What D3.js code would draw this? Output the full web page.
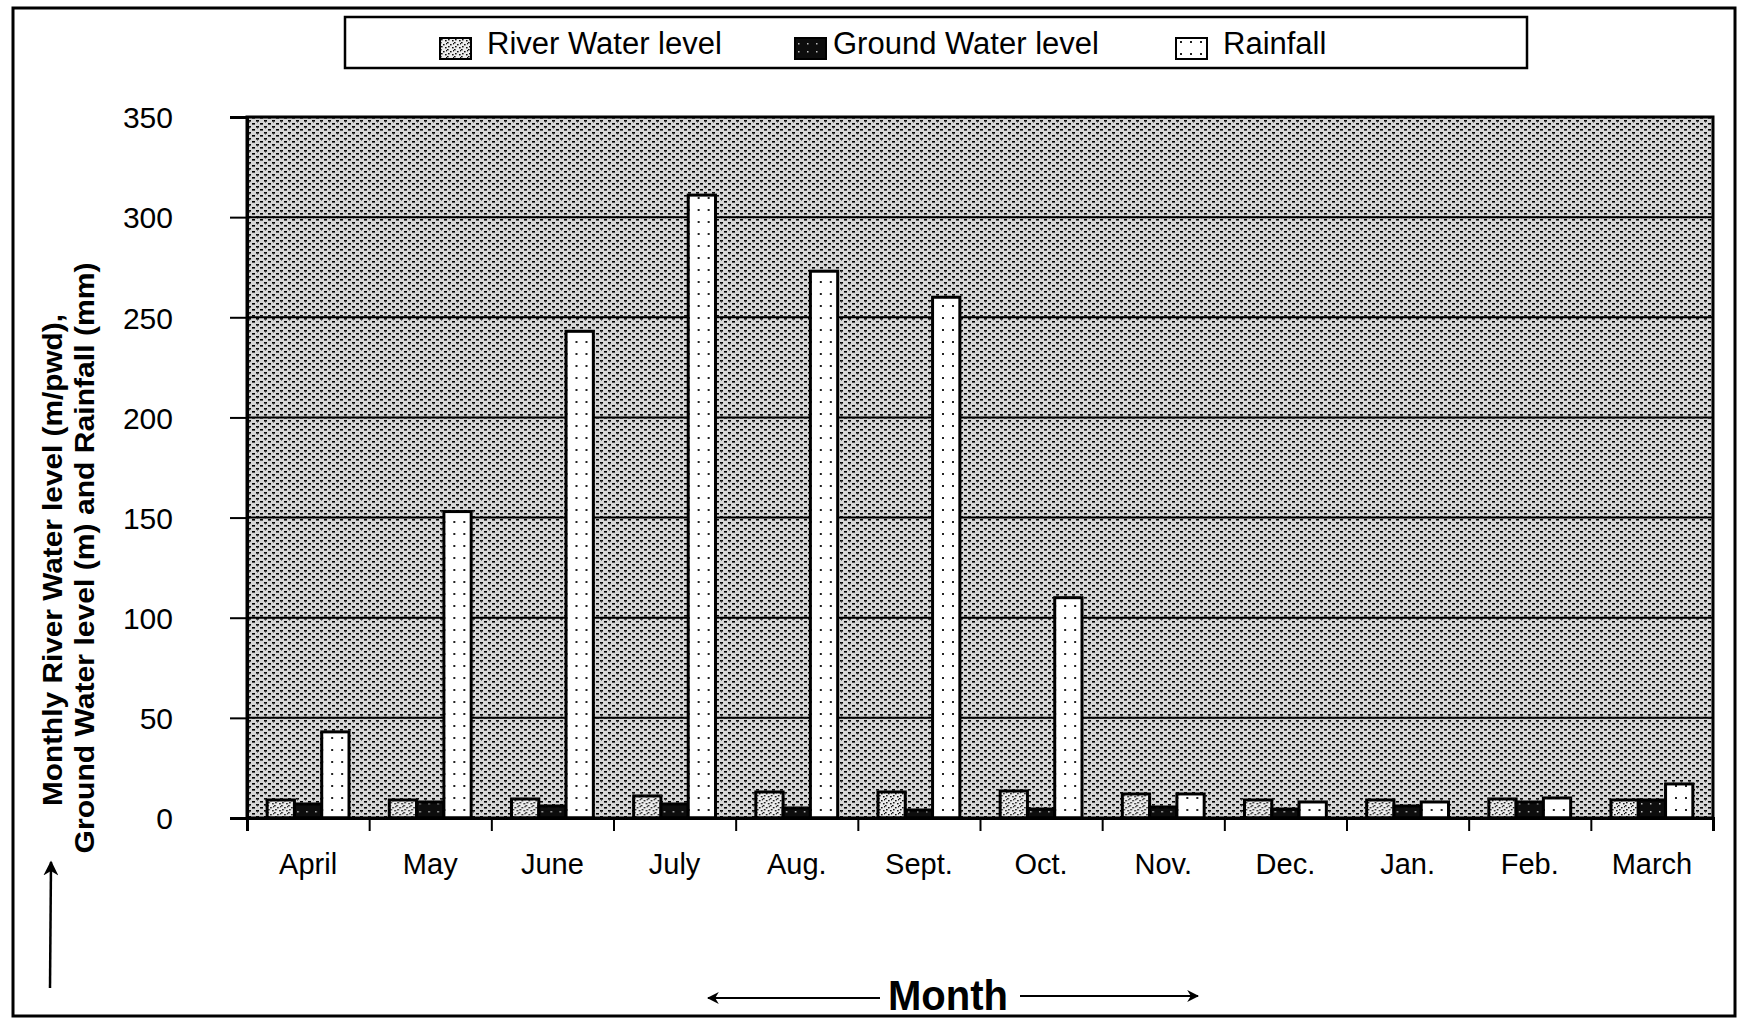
<!DOCTYPE html>
<html>
<head>
<meta charset="utf-8">
<script src="https://cdn.jsdelivr.net/npm/d3@7"></script>
<style>
  html, body { margin: 0; padding: 0; background: #fff; }
  svg { display: block; }
  text { font-family: "Liberation Sans", Arial, sans-serif; fill: #000; }
</style>
</head>
<body>
<svg id="chart" width="1738" height="1019"></svg>
<script>
// ---- data ----
const months = ["April", "May", "June", "July", "Aug.", "Sept.", "Oct.", "Nov.", "Dec.", "Jan.", "Feb.", "March"];
const seriesNames = ["River Water level", "Ground Water level", "Rainfall"];
const riverLevel = [9, 9, 9.5, 11, 13, 13, 13.5, 12, 9, 9, 9.5, 9];
const groundLevel = [7, 8, 6, 7, 5, 4, 4.5, 5.5, 4.5, 6, 8, 9];
const rainfall = [43, 153, 243, 311, 273, 260, 110, 12, 8, 8, 10, 17];
const yTicks = [0, 50, 100, 150, 200, 250, 300, 350];
const yTitle = ["Monthly River Water level (m/pwd),", "Ground Water level (m) and  Rainfall (mm)"];
const xTitle = "Month";

const seriesValues = [riverLevel, groundLevel, rainfall];

const svg = d3.select("#chart");
const plot = { left: 247, right: 1713, top: 117, bottom: 818 };

// ---- patterns ----
const defs = svg.append("defs");
const bgPat = defs.append("pattern").attr("id", "bgPat").attr("patternUnits", "userSpaceOnUse")
  .attr("width", 8).attr("height", 6);
bgPat.append("rect").attr("width", 8).attr("height", 6).attr("fill", "#d6d6d6");
bgPat.append("rect").attr("x", 0).attr("y", 0).attr("width", 3).attr("height", 1.6).attr("fill", "#000");
bgPat.append("rect").attr("x", 4).attr("y", 3).attr("width", 3).attr("height", 1.6).attr("fill", "#000");
bgPat.append("rect").attr("x", 1).attr("y", 0).attr("width", 1).attr("height", 3).attr("fill", "#222").attr("opacity", 0.5);

const rvPat = defs.append("pattern").attr("id", "rvPat").attr("patternUnits", "userSpaceOnUse")
  .attr("width", 7).attr("height", 7);
rvPat.append("rect").attr("width", 7).attr("height", 7).attr("fill", "#ededed");
[[0,0],[3,2],[5,5],[1,4],[6,1]].forEach(p => rvPat.append("rect").attr("x", p[0]).attr("y", p[1])
  .attr("width", 1.6).attr("height", 1.4).attr("fill", "#111"));

const gwPat = defs.append("pattern").attr("id", "gwPat").attr("patternUnits", "userSpaceOnUse")
  .attr("width", 9).attr("height", 8);
gwPat.append("rect").attr("width", 9).attr("height", 8).attr("fill", "#0d0d0d");
gwPat.append("rect").attr("x", 3).attr("y", 3).attr("width", 1.5).attr("height", 1.5).attr("fill", "#bbb");

const rfPat = defs.append("pattern").attr("id", "rfPat").attr("patternUnits", "userSpaceOnUse")
  .attr("width", 10).attr("height", 12);
rfPat.append("rect").attr("width", 10).attr("height", 12).attr("fill", "#fff");
rfPat.append("rect").attr("x", 4).attr("y", 5).attr("width", 2).attr("height", 2).attr("fill", "#222");

const fills = ["url(#rvPat)", "url(#gwPat)", "url(#rfPat)"];

// ---- outer frame ----
svg.append("rect").attr("x", 13).attr("y", 8).attr("width", 1735 - 13).attr("height", 1016 - 8)
  .attr("fill", "none").attr("stroke", "#000").attr("stroke-width", 3);

// ---- scales ----
const x0 = d3.scaleBand().domain(months).range([plot.left, plot.right])
  .paddingInner(0.33).paddingOuter(0.165);
const x1 = d3.scaleBand().domain(seriesNames).range([0, x0.bandwidth()]);
const y = d3.scaleLinear().domain([0, 350]).range([plot.bottom, plot.top]);
const xEdge = d3.scaleLinear().domain([0, months.length]).range([plot.left, plot.right]);

// ---- plot background ----
svg.append("rect").attr("x", plot.left).attr("y", plot.top)
  .attr("width", plot.right - plot.left).attr("height", plot.bottom - plot.top)
  .attr("fill", "url(#bgPat)");

// gridlines
svg.append("g").selectAll("line").data(yTicks.filter(t => t > 0 && t < 350)).join("line")
  .attr("x1", plot.left).attr("x2", plot.right)
  .attr("y1", d => y(d)).attr("y2", d => y(d))
  .attr("stroke", "#000").attr("stroke-width", 2);

// ---- bars ----
const groups = svg.append("g").selectAll("g").data(months).join("g")
  .attr("transform", d => `translate(${x0(d)},0)`);
groups.selectAll("rect").data((m, i) => seriesNames.map((s, k) => ({ s, k, v: seriesValues[k][i] })))
  .join("rect")
  .attr("x", d => x1(d.s))
  .attr("y", d => y(d.v))
  .attr("width", x1.bandwidth())
  .attr("height", d => y(0) - y(d.v))
  .attr("fill", d => fills[d.k])
  .attr("stroke", "#000").attr("stroke-width", 3);

// plot border
svg.append("rect").attr("x", plot.left).attr("y", plot.top)
  .attr("width", plot.right - plot.left).attr("height", plot.bottom - plot.top)
  .attr("fill", "none").attr("stroke", "#000").attr("stroke-width", 3);

// ---- y axis ----
const yAxis = svg.append("g").attr("transform", `translate(${plot.left},0)`)
  .call(d3.axisLeft(y).tickValues(yTicks).tickSize(17).tickPadding(57).tickFormat(d3.format("d")));
yAxis.select(".domain").attr("stroke", "#000").attr("stroke-width", 3);
yAxis.selectAll(".tick line").attr("stroke", "#000").attr("stroke-width", 2);
yAxis.selectAll(".tick text").attr("font-size", 30).attr("font-family", "'Liberation Sans', Arial, sans-serif")
  .attr("fill", "#000").attr("dy", "0.36em");

// ---- x axis ticks at band edges ----
const xAxis = svg.append("g").attr("transform", `translate(0,${plot.bottom})`)
  .call(d3.axisBottom(xEdge).tickValues(d3.range(months.length + 1)).tickSize(13).tickFormat(""));
xAxis.select(".domain").attr("stroke", "#000").attr("stroke-width", 3);
xAxis.selectAll(".tick line").attr("stroke", "#000").attr("stroke-width", 2);

// month labels
svg.append("g").selectAll("text").data(months).join("text")
  .attr("x", d => x0(d) + x0.bandwidth() / 2)
  .attr("y", 874)
  .attr("text-anchor", "middle")
  .attr("font-size", 29)
  .text(d => d);

// ---- y title ----
const yt = svg.append("g").attr("transform", "translate(0,560) rotate(-90)");
yt.append("text").attr("x", 0).attr("y", 62).attr("text-anchor", "middle")
  .attr("font-size", 28).attr("font-weight", "bold")
  .attr("font-family", "'Liberation Sans Narrow', 'Arial Narrow', 'Liberation Sans', Arial, sans-serif")
  .attr("textLength", 492).attr("lengthAdjust", "spacingAndGlyphs")
  .text(yTitle[0]);
yt.append("text").attr("x", 2).attr("y", 94).attr("text-anchor", "middle")
  .attr("font-size", 28).attr("font-weight", "bold")
  .attr("font-family", "'Liberation Sans Narrow', 'Arial Narrow', 'Liberation Sans', Arial, sans-serif")
  .attr("textLength", 591).attr("lengthAdjust", "spacingAndGlyphs")
  .text(yTitle[1]);

// arrow markers
const mk = defs.append("marker").attr("id", "arrowHead").attr("viewBox", "0 0 10 10")
  .attr("refX", 9).attr("refY", 5).attr("markerWidth", 6).attr("markerHeight", 6)
  .attr("markerUnits", "strokeWidth").attr("orient", "auto");
mk.append("path").attr("d", "M0,0 L10,5 L0,10 L3,5 Z").attr("fill", "#000");

// vertical arrow on left
svg.append("line").attr("x1", 50).attr("y1", 988).attr("x2", 51).attr("y2", 862)
  .attr("stroke", "#000").attr("stroke-width", 2.5).attr("marker-end", "url(#arrowHead)");

// ---- x title with arrows ----
svg.append("text").attr("x", 948).attr("y", 1010).attr("text-anchor", "middle")
  .attr("font-size", 42).attr("font-weight", "bold")
  .attr("textLength", 120).attr("lengthAdjust", "spacingAndGlyphs")
  .text(xTitle);
svg.append("line").attr("x1", 880).attr("y1", 998).attr("x2", 708).attr("y2", 998)
  .attr("stroke", "#000").attr("stroke-width", 2).attr("marker-end", "url(#arrowHead)");
svg.append("line").attr("x1", 1020).attr("y1", 996).attr("x2", 1198).attr("y2", 996)
  .attr("stroke", "#000").attr("stroke-width", 2).attr("marker-end", "url(#arrowHead)");

// ---- legend ----
const lg = svg.append("g");
lg.append("rect").attr("x", 345).attr("y", 17).attr("width", 1527 - 345).attr("height", 51)
  .attr("fill", "#fff").attr("stroke", "#000").attr("stroke-width", 2.5);
const legendX = [440, 795, 1176];
const legendItems = lg.selectAll("g").data(seriesNames).join("g")
  .attr("transform", (d, i) => `translate(${legendX[i]},0)`);
legendItems.append("rect").attr("x", 0).attr("y", 38).attr("width", 31).attr("height", 21)
  .attr("fill", (d, i) => fills[i]).attr("stroke", "#000").attr("stroke-width", 2);
legendItems.append("text").attr("x", (d, i) => i === 1 ? 38 : 47).attr("y", 54)
  .attr("font-size", 31).text(d => d);
</script>
</body>
</html>
